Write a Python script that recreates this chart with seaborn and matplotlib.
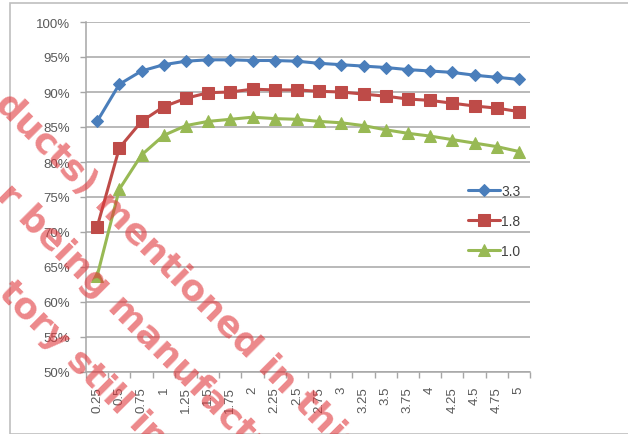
import pandas as pd
import seaborn as sns
import matplotlib.pyplot as plt
from matplotlib.patches import Rectangle

# data
x_labels = ['0.25', '0.5', '0.75', '1', '1.25', '1.5', '1.75', '2', '2.25', '2.5',
            '2.75', '3', '3.25', '3.5', '3.75', '4', '4.25', '4.5', '4.75', '5']
s_33 = [85.8, 91.1, 93.0, 93.9, 94.4, 94.6, 94.6, 94.5, 94.5, 94.4,
        94.1, 93.9, 93.7, 93.5, 93.2, 93.0, 92.8, 92.4, 92.1, 91.8]
s_18 = [70.7, 82.0, 85.8, 87.9, 89.1, 89.9, 90.0, 90.4, 90.3, 90.3,
        90.1, 90.0, 89.7, 89.4, 89.0, 88.8, 88.4, 88.0, 87.7, 87.2]
s_10 = [63.7, 76.1, 81.0, 83.8, 85.2, 85.8, 86.1, 86.4, 86.2, 86.1,
        85.8, 85.6, 85.2, 84.6, 84.1, 83.7, 83.2, 82.7, 82.2, 81.5]
series_names = ['3.3', '1.8', '1.0']
y_ticks = [50, 55, 60, 65, 70, 75, 80, 85, 90, 95, 100]
watermark = ['ducts) mentioned in this', 'r being manufactured', 'tory still in']

sns.set_style('white')
plt.rcParams['font.family'] = ['Liberation Sans', 'DejaVu Sans']

W, H = 628, 435
fig = plt.figure(figsize=(W / 100, H / 100), dpi=100)
ax = fig.add_axes([86 / W, (H - 373) / H, 444 / W, 350 / H])

# outer chart border
fig.patches.append(Rectangle((10 / W, 0), 1, 1 - 4 / H, transform=fig.transFigure,
                             fill=False, edgecolor='#bfbfbf', lw=1.2))

styles = [('#4a7ebb', 'D', 6), ('#be4b48', 's', 8.5), ('#98b954', '^', 8)]
for name, vals, (col, mk, ms) in zip(series_names, [s_33, s_18, s_10], styles):
    df = pd.DataFrame({'x': x_labels, 'y': vals})
    sns.lineplot(data=df, x='x', y='y', ax=ax, color=col, marker=mk, markersize=ms,
                 markeredgecolor=col, linewidth=2.2, label=name, sort=False)

ax.set_xlim(-0.5, len(x_labels) - 0.5)
ax.set_ylim(50, 100)
ax.set_yticks(y_ticks)
ax.set_yticklabels([f'{v}%' for v in y_ticks])
ax.set_xticks(range(len(x_labels)))
ax.set_xticklabels(x_labels, rotation=90)
ax.set_xticks([i - 0.5 for i in range(len(x_labels) + 1)], minor=True)
ax.set_xlabel('')
ax.set_ylabel('')
ax.yaxis.grid(True, color='#a6a6a6', lw=1.1)
ax.set_axisbelow(True)

for s in ['top', 'right']:
    ax.spines[s].set_visible(False)
for s in ['left', 'bottom']:
    ax.spines[s].set_color('#a6a6a6')
    ax.spines[s].set_linewidth(1.1)

ax.tick_params(axis='y', left=True, length=4.3, width=1, color='#a6a6a6', pad=7,
               labelsize=9.5, labelcolor='#595959')
ax.tick_params(axis='x', which='major', bottom=False, length=0, pad=10,
               labelsize=9.5, labelcolor='#595959')
ax.tick_params(axis='x', which='minor', bottom=True, length=4, width=1, color='#a6a6a6')

leg = ax.legend(loc='center left', bbox_to_anchor=(461 / W, 1 - 222 / H),
                bbox_transform=fig.transFigure, frameon=False, fontsize=10,
                handlelength=2.3, handletextpad=0.1, labelspacing=1.15, borderpad=0)
for t in leg.get_texts():
    t.set_color('#404040')

# diagonal watermark over the chart
wm_pos = [(1, 98), (2, 190), (4, 287)]
for txt, (px, py) in zip(watermark, wm_pos):
    fig.text(px / W, 1 - py / H, txt, rotation=-45, rotation_mode='anchor',
             ha='left', va='center', fontsize=26, fontweight='bold',
             color='#e0383c', alpha=0.6, family='DejaVu Sans')

fig.savefig('out.png', dpi=100)
